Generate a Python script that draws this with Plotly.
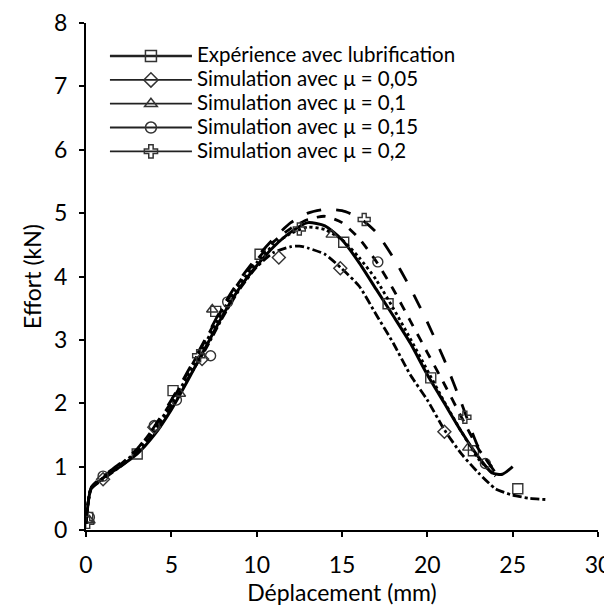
import plotly.graph_objects as go

# ---------------- data (Déplacement mm, Effort kN) ----------------
exp_x = [0, 0.3, 1, 2, 3, 4, 5, 6, 7, 8, 9, 10, 11, 12, 13, 14, 15, 16, 17, 18, 19, 20, 21, 22, 23, 23.8, 24.4, 25]
exp_y = [0.1, 0.65, 0.82, 1.0, 1.2, 1.5, 1.9, 2.38, 2.88, 3.38, 3.82, 4.17, 4.47, 4.7, 4.85, 4.8, 4.58, 4.22, 3.8, 3.38, 2.95, 2.45, 2.0, 1.55, 1.15, 0.9, 0.88, 1.0]
exp_mx = [0.1, 3, 5.1, 7.6, 10.2, 15.1, 17.7, 20.2, 22.7, 25.3]
exp_my = [0.2, 1.2, 2.2, 3.45, 4.35, 4.54, 3.57, 2.4, 1.25, 0.65]

m005_x = [0, 0.3, 1, 2, 3, 4, 5, 6, 7, 8, 9, 10, 11, 12, 12.5, 13, 14, 15, 16, 17, 18, 19, 20, 21, 22, 23, 24, 25, 26, 27]
m005_y = [0.1, 0.65, 0.8, 1.0, 1.22, 1.55, 1.95, 2.4, 2.85, 3.35, 3.8, 4.15, 4.38, 4.47, 4.48, 4.45, 4.35, 4.12, 3.85, 3.4, 2.95, 2.45, 2.05, 1.58, 1.2, 0.9, 0.65, 0.55, 0.5, 0.48]
m005_mx = [1, 4, 6.8, 11.3, 14.9, 21.0]
m005_my = [0.8, 1.62, 2.7, 4.3, 4.13, 1.55]

m01_x = [0, 0.3, 1, 2, 3, 4, 5, 6, 7, 8, 9, 10, 11, 12, 13, 14, 15, 16, 17, 18, 19, 20, 21, 22, 23, 24]
m01_y = [0.1, 0.66, 0.82, 1.02, 1.25, 1.58, 2.0, 2.45, 2.95, 3.45, 3.88, 4.22, 4.5, 4.68, 4.78, 4.74, 4.58, 4.3, 3.95, 3.5, 3.02, 2.52, 2.02, 1.55, 1.12, 0.85]
m01_mx = [0.2, 5.5, 7.4, 14.4, 22.4]
m01_my = [0.15, 2.15, 3.48, 4.66, 1.3]

m015_x = [0, 0.3, 1, 2, 3, 4, 5, 6, 7, 8, 9, 10, 11, 12, 13, 14, 15, 16, 17, 18, 19, 20, 21, 22, 23, 24]
m015_y = [0.1, 0.66, 0.84, 1.03, 1.27, 1.62, 2.02, 2.5, 3.0, 3.5, 3.92, 4.26, 4.55, 4.76, 4.9, 4.95, 4.85, 4.6, 4.24, 3.8, 3.3, 2.8, 2.3, 1.78, 1.28, 0.92]
m015_mx = [0.2, 1, 4, 5.3, 7.3, 8.3, 17.1, 23.4]
m015_my = [0.2, 0.85, 1.65, 2.05, 2.75, 3.6, 4.23, 1.05]

m02_x = [0, 0.3, 1, 2, 3, 4, 5, 6, 7, 8, 9, 10, 11, 12, 13, 14, 15, 16, 17, 18, 19, 20, 21, 22, 23, 24]
m02_y = [0.1, 0.67, 0.85, 1.05, 1.28, 1.63, 2.05, 2.52, 3.02, 3.52, 3.95, 4.3, 4.6, 4.85, 5.0, 5.06, 5.04, 4.93, 4.7, 4.3, 3.82, 3.28, 2.68, 2.0, 1.3, 0.9]
m02_mx = [0.1, 6.6, 12.5, 16.3, 22.2]
m02_my = [0.12, 2.75, 4.75, 4.9, 1.78]

labels = ["Expérience avec lubrification", "Simulation avec μ = 0,05",
          "Simulation avec μ = 0,1", "Simulation avec μ = 0,15", "Simulation avec μ = 0,2"]

series = [
    (exp_x, exp_y, exp_mx, exp_my, "solid", "square-open", 3),
    (m005_x, m005_y, m005_mx, m005_my, "dashdot", "diamond-open", 2.8),
    (m01_x, m01_y, m01_mx, m01_my, "dot", "triangle-up-open", 2.8),
    (m015_x, m015_y, m015_mx, m015_my, "dash", "circle-open", 2.8),
    (m02_x, m02_y, m02_mx, m02_my, "longdash", "cross-open", 2.8),
]

FONT = "Lato, 'Open Sans', sans-serif"
MK = "#333"
fig = go.Figure()
for i, (x, y, mx, my, dash, sym, w) in enumerate(series):
    fig.add_trace(go.Scatter(
        x=x, y=y, mode="lines", line=dict(color="black", width=w, dash=dash, shape="spline", smoothing=0.6),
        showlegend=False, legendgroup=str(i), hoverinfo="skip"))
    fig.add_trace(go.Scatter(
        x=mx, y=my, mode="markers", name=labels[i], legendgroup=str(i),
        marker=dict(symbol=sym, size=10, color=MK, line=dict(width=1.4, color=MK)),
        showlegend=False))
    # legend proxy (no data)
    fig.add_trace(go.Scatter(
        x=[None], y=[None], mode="lines+markers",
        name='<span style="font-size:20.5px">' + labels[i] + "</span>", legendgroup=str(i),
        line=dict(color="#222", width=2.5 if i == 0 else 1.8),
        marker=dict(symbol=sym, size=11, color=MK, line=dict(width=1.5, color=MK))))

axis_common = dict(showline=True, linecolor="black", linewidth=2, ticks="outside",
                   ticklen=5, tickwidth=2, tickcolor="black", showgrid=False, zeroline=False,
                   automargin=False, ticklabeloverflow="allow",
                   tickfont=dict(family=FONT, size=23, color="black"))
# page body adds an 8px offset: figure size/margins compensate so the plot area sits at x 86-598, y ~22-530
fig.update_layout(
    width=604, height=598, paper_bgcolor="white", plot_bgcolor="white",
    margin=dict(l=78, r=14, t=15, b=76),
    font=dict(family=FONT, color="black"),
    xaxis=dict(range=[0, 30], dtick=5, ticklabelstandoff=8,
               title=dict(text="Déplacement (mm)", font=dict(family=FONT, size=23), standoff=3), **axis_common),
    yaxis=dict(range=[0, 8], dtick=1, ticklabelstandoff=7,
               title=dict(text="Effort (kN)", font=dict(family=FONT, size=23), standoff=6), **axis_common),
    legend=dict(x=0.037, y=0.968, xanchor="left", yanchor="top", bgcolor="rgba(0,0,0,0)",
                font=dict(family=FONT, size=16, color="black"), itemwidth=82, tracegroupgap=0),
)
fig.write_html("out.html")
